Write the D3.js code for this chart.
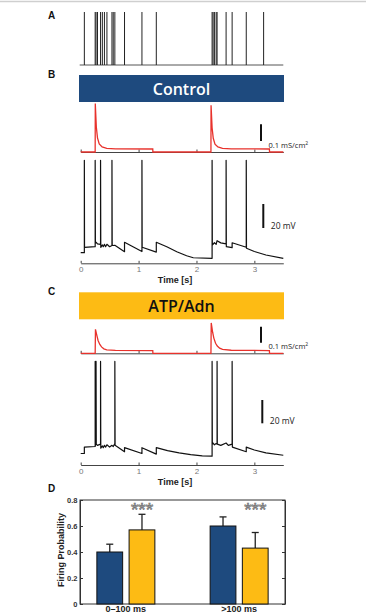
<!DOCTYPE html>
<html>
<head>
<meta charset="utf-8">
<script src="https://cdn.jsdelivr.net/npm/d3@7"></script>
<style>
  body { margin: 0; background: #fff; }
  svg { display: block; font-family: Arial, "Liberation Sans", sans-serif; }
</style>
</head>
<body>
<div id="chart"></div>
<script>
// Presynaptic input spike times (s), panel A
const inputSpikes = [0.063, 0.25, 0.265, 0.29, 0.343, 0.374, 0.41, 0.453, 0.54, 0.562, 0.59, 0.757, 1.058, 1.306,
  2.27, 2.287, 2.31, 2.34, 2.356, 2.512, 2.616, 2.86, 3.16];

// Conductance traces [t (s), g (mS/cm2)]
const gControl = [[0, 0], [0.25, 0], [0.252, 0.29], [0.27, 0.15], [0.29, 0.085], [0.32, 0.048], [0.37, 0.03], [0.45, 0.022],
  [0.6, 0.019], [1.245, 0.018], [1.247, 0], [2.25, 0], [2.252, 0.28], [2.27, 0.145], [2.29, 0.082], [2.32, 0.047],
  [2.37, 0.03], [2.45, 0.022], [2.6, 0.019], [3.26, 0.018], [3.262, 0], [3.5, 0]];
const gAtp = [[0, 0], [0.25, 0], [0.255, 0.15], [0.28, 0.11], [0.3, 0.08], [0.33, 0.055], [0.36, 0.04], [0.4, 0.028],
  [0.45, 0.022], [0.6, 0.018], [1.245, 0.017], [1.247, 0], [2.25, 0], [2.255, 0.19], [2.28, 0.13], [2.3, 0.095],
  [2.33, 0.063], [2.36, 0.045], [2.4, 0.032], [2.45, 0.024], [2.6, 0.019], [3.26, 0.017], [3.262, 0], [3.5, 0]];

// Membrane potential traces [t (s), V (mV)]
const vControl = [[0, -70], [0.063, -70], [0.063, 7], [0.066, -65.5], [0.25, -65], [0.25, 7], [0.254, -62], [0.265, -61.3],
  [0.29, -62.7], [0.343, -63], [0.343, 7], [0.347, -65.5], [0.374, -63.5], [0.39, -65], [0.41, -63], [0.43, -65],
  [0.453, -63], [0.5, -65], [0.54, -64], [0.54, 7], [0.544, -63.6], [0.562, -64], [0.59, -63.8], [0.757, -69.2],
  [0.757, -61.3], [1.058, -69], [1.058, 7], [1.062, -65.5], [1.306, -69.5], [1.306, -61.3], [1.487, -65], [1.66, -69.2],
  [1.83, -72.5], [1.945, -74.2], [2.27, -74.7], [2.27, 7], [2.274, -63.6], [2.31, -61.7], [2.34, -63], [2.356, -60],
  [2.42, -61.8], [2.512, -62.7], [2.512, 7], [2.516, -65], [2.616, -65.8], [2.616, -61.7], [2.86, -65.5], [2.86, 7],
  [2.864, -66.3], [3.0, -69], [3.2, -71.9], [3.5, -74.7]];
const vAtp = [[0, -70], [0.063, -70], [0.063, -64.5], [0.25, -64], [0.25, 9], [0.254, -63], [0.265, -62], [0.265, 9],
  [0.269, -62], [0.29, -63], [0.343, -62], [0.343, 9], [0.347, -65.5], [0.374, -63.5], [0.39, -65], [0.41, -63],
  [0.43, -64.5], [0.453, -62.5], [0.5, -64.5], [0.54, -63], [0.562, -64], [0.59, -61.5], [0.59, 9], [0.594, -63],
  [0.757, -68.5], [0.757, -65], [1.058, -70], [1.058, -65], [1.306, -70.5], [1.306, -65], [1.5, -67.5], [1.7, -69.5],
  [1.9, -71], [2.1, -72], [2.27, -72.3], [2.27, 9], [2.274, -62], [2.287, -61], [2.31, -62.5], [2.34, -61.5],
  [2.356, -62], [2.356, 9], [2.36, -62], [2.42, -63], [2.512, -61], [2.55, -63], [2.616, -62], [2.616, 9], [2.62, -64.5],
  [2.86, -68.5], [2.86, -64.5], [3.0, -67], [3.2, -69.5], [3.5, -71.5]];

const timeTicks = [0, 1, 2, 3];

// Panel D: firing probability
const windows = ['0–100 ms', '>100 ms'];
const conditions = ['Control', 'ATP/Adn'];
const probControl = [0.40, 0.60];
const probAtp = [0.57, 0.43];
const errControl = [0.06, 0.07];
const errAtp = [0.12, 0.12];
const probTicks = [0, 0.2, 0.4, 0.6, 0.8];

const colors = { Control: '#1e4a7e', 'ATP/Adn': '#fdbb14', red: '#e8322c' };

function drawChart() {
  const svg = d3.select('#chart').append('svg').attr('width', 366).attr('height', 613);

  svg.append('line').attr('x1', 0).attr('x2', 366).attr('y1', 1.5).attr('y2', 1.5)
    .attr('stroke', '#cfcfcf').attr('stroke-width', 1.5);

  const x = d3.scaleLinear().domain([0, 3.5]).range([80.7, 283.3]);

  const letter = (t, ly) => svg.append('text').attr('x', 48).attr('y', ly).text(t)
    .attr('font-size', 10).attr('font-weight', 'bold').attr('fill', '#111');

  // ---- A: input raster
  letter('A', 19);
  svg.append('line').attr('x1', x(0) - 1).attr('x2', x(3.5)).attr('y1', 65).attr('y2', 65)
    .attr('stroke', '#555').attr('stroke-width', 1);
  svg.append('g').selectAll('line').data(inputSpikes).join('line')
    .attr('x1', (d) => x(d)).attr('x2', (d) => x(d)).attr('y1', 65).attr('y2', 12)
    .attr('stroke', '#222').attr('stroke-width', 1);

  // ---- B and C panels
  function panel(cfg) {
    letter(cfg.label, cfg.top + 3);
    svg.append('rect').attr('x', 79).attr('y', cfg.top).attr('width', 205).attr('height', 27)
      .attr('fill', colors[cfg.name]);
    svg.append('text').attr('x', 181.5).attr('y', cfg.top + 19.5).attr('text-anchor', 'middle')
      .attr('font-family', '"Open Sans", sans-serif').attr('font-size', 16).attr('font-weight', 600)
      .attr('fill', cfg.name === 'Control' ? '#fff' : '#111').text(cfg.name);

    // conductance
    const g = d3.scaleLinear().domain([0, 0.1]).range([cfg.gBase, cfg.gBase - cfg.gPx]);
    const gAxis = d3.axisBottom(x).tickValues(timeTicks).tickSizeInner(-2.5).tickSizeOuter(0).tickFormat('');
    svg.append('g').attr('transform', `translate(0,${cfg.gBase})`).call(gAxis)
      .call((a) => a.selectAll('path,line').attr('stroke', '#444'));
    svg.append('path').datum(cfg.g)
      .attr('d', d3.line().x((d) => x(d[0])).y((d) => g(d[1])))
      .attr('fill', 'none').attr('stroke', colors.red).attr('stroke-width', 1.3);
    svg.append('line').attr('x1', 261).attr('x2', 261).attr('y1', cfg.gBar).attr('y2', cfg.gBar - (g(0) - g(0.1)))
      .attr('stroke', '#111').attr('stroke-width', 2);
    const gl = svg.append('text').attr('x', 268.5).attr('y', cfg.gBar + 6.5)
      .attr('font-family', '"Open Sans", sans-serif').attr('font-size', 7.5).attr('fill', '#222');
    gl.append('tspan').text('0.1 mS/cm');
    gl.append('tspan').attr('font-size', 5).attr('dy', -3).text('2');

    // voltage
    const v = d3.scaleLinear().domain([-70, -50]).range([cfg.vRest, cfg.vRest - cfg.vPx]);
    svg.append('path').datum(cfg.v)
      .attr('d', d3.line().x((d) => x(d[0])).y((d) => v(d[1])))
      .attr('fill', 'none').attr('stroke', '#111').attr('stroke-width', 1.2).attr('stroke-linejoin', 'round');
    svg.append('line').attr('x1', cfg.vBarX).attr('x2', cfg.vBarX).attr('y1', cfg.vBar).attr('y2', cfg.vBar - (v(-70) - v(-50)))
      .attr('stroke', '#111').attr('stroke-width', 2);
    svg.append('text').attr('x', cfg.vBarX + 7.5).attr('y', cfg.vBar + 0.5)
      .attr('font-family', '"Open Sans", sans-serif').attr('font-size', 8.5).attr('fill', '#222').text('20 mV');

    const tAxis = d3.axisBottom(x).tickValues(timeTicks).tickSizeInner(-2.5).tickSizeOuter(0).tickPadding(3.5)
      .tickFormat(d3.format('d'));
    svg.append('g').attr('transform', `translate(0,${cfg.axisY})`).call(tAxis)
      .call((a) => a.selectAll('path,line').attr('stroke', '#444'))
      .call((a) => a.selectAll('text').attr('font-size', 8).attr('fill', '#777').attr('font-family', 'Arial, sans-serif'));
    svg.append('text').attr('x', 175).attr('y', cfg.axisY + 20).attr('text-anchor', 'middle')
      .attr('font-size', 9).attr('font-weight', 'bold').attr('fill', '#222').text('Time [s]');
  }

  panel({ label: 'B', name: 'Control', top: 75, g: gControl, gBase: 152, gPx: 16.7, gBar: 141,
    v: vControl, vRest: 252.7, vPx: 24, vBar: 228, vBarX: 263.3, axisY: 263.3 });
  panel({ label: 'C', name: 'ATP/Adn', top: 292.3, g: gAtp, gBase: 353.3, gPx: 16, gBar: 342.7,
    v: vAtp, vRest: 453.5, vPx: 23.3, vBar: 423.3, vBarX: 262.3, axisY: 465 });

  // ---- D: bar chart
  letter('D', 492);
  const y = d3.scaleLinear().domain([0, 0.8]).range([604, 500]);
  const xg = d3.scalePoint().domain(windows).range([80, 285]).padding(0.405);
  const xs = d3.scaleBand().domain(conditions).range([-29, 29]).paddingInner(0.2);

  svg.append('g').attr('transform', 'translate(80,0)')
    .call(d3.axisLeft(y).tickValues(probTicks).tickSizeInner(-3).tickSizeOuter(0).tickPadding(2.5)
      .tickFormat((d) => (d === 0 ? '0' : d3.format('.1f')(d))))
    .call((a) => a.selectAll('path,line').attr('stroke', '#333'))
    .call((a) => a.selectAll('text').attr('font-size', 7.5).attr('font-weight', 'bold').attr('fill', '#333')
      .attr('font-family', 'Arial, sans-serif'));
  svg.append('g').attr('transform', 'translate(285,0)')
    .call(d3.axisRight(y).tickValues(probTicks).tickSizeInner(-3).tickSizeOuter(0).tickFormat(''))
    .call((a) => a.selectAll('path,line').attr('stroke', '#333'));
  svg.append('rect').attr('x', 80).attr('y', y(0.8)).attr('width', 205).attr('height', y(0) - y(0.8))
    .attr('fill', 'none').attr('stroke', '#333').attr('stroke-width', 1);

  const bars = [];
  windows.forEach((w, i) => {
    bars.push({ w, c: 'Control', p: probControl[i], e: errControl[i] });
    bars.push({ w, c: 'ATP/Adn', p: probAtp[i], e: errAtp[i] });
  });
  const bx = (d) => xg(d.w) + xs(d.c);
  const bc = (d) => bx(d) + xs.bandwidth() / 2;

  const bg = svg.append('g');
  bg.selectAll('line.err').data(bars).join('line').attr('class', 'err')
    .attr('x1', bc).attr('x2', bc).attr('y1', (d) => y(d.p)).attr('y2', (d) => y(d.p + d.e))
    .attr('stroke', '#222').attr('stroke-width', 1.3);
  bg.selectAll('line.cap').data(bars).join('line').attr('class', 'cap')
    .attr('x1', (d) => bc(d) - 3.5).attr('x2', (d) => bc(d) + 3.5).attr('y1', (d) => y(d.p + d.e)).attr('y2', (d) => y(d.p + d.e))
    .attr('stroke', '#222').attr('stroke-width', 1.3);
  bg.selectAll('rect').data(bars).join('rect')
    .attr('x', bx).attr('width', xs.bandwidth()).attr('y', (d) => y(d.p)).attr('height', (d) => y(0) - y(d.p))
    .attr('fill', (d) => colors[d.c]).attr('stroke', '#111').attr('stroke-width', 1);

  bg.selectAll('text.star').data(bars.filter((d) => d.c === 'ATP/Adn')).join('text').attr('class', 'star')
    .attr('x', bc).attr('y', 515.5).attr('text-anchor', 'middle')
    .attr('font-size', 19).attr('fill', '#bbb').attr('stroke', '#666').attr('stroke-width', 0.6).text('***');

  svg.append('text').attr('transform', 'translate(63.5,550) rotate(-90)').attr('text-anchor', 'middle')
    .attr('font-size', 9).attr('font-weight', 'bold').attr('fill', '#222').text('Firing Probability');
  svg.append('g').selectAll('text').data(windows).join('text')
    .attr('x', (d) => xg(d)).attr('y', 612).attr('text-anchor', 'middle')
    .attr('font-size', 9).attr('font-weight', 'bold').attr('fill', '#222').text((d) => d);
}

document.addEventListener('DOMContentLoaded', drawChart);
</script>
</body>
</html>
